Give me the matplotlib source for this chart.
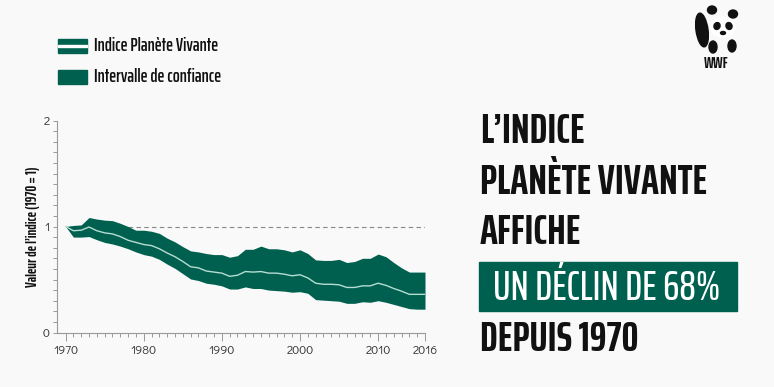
import matplotlib
matplotlib.use("Agg")
import matplotlib.pyplot as plt
from matplotlib.patches import Rectangle, Ellipse
import numpy as np

# ---- data ----
years = list(range(1970, 2017))
lpi = [1.0, 0.96, 0.965, 0.995, 0.96, 0.94, 0.93, 0.905, 0.87, 0.85,
       0.83, 0.82, 0.79, 0.75, 0.715, 0.67, 0.62, 0.61, 0.58, 0.57,
       0.56, 0.53, 0.54, 0.575, 0.57, 0.575, 0.56, 0.56, 0.55, 0.535,
       0.545, 0.515, 0.465, 0.455, 0.455, 0.45, 0.425, 0.425, 0.44, 0.44,
       0.465, 0.445, 0.415, 0.39, 0.36, 0.36, 0.36]
upper = [1.0, 1.01, 1.015, 1.085, 1.07, 1.06, 1.055, 1.03, 1.0, 0.965,
         0.965, 0.955, 0.935, 0.89, 0.855, 0.81, 0.77, 0.76, 0.745, 0.735,
         0.735, 0.71, 0.725, 0.785, 0.785, 0.815, 0.79, 0.79, 0.78, 0.76,
         0.78, 0.745, 0.685, 0.68, 0.68, 0.69, 0.66, 0.67, 0.70, 0.70,
         0.74, 0.715, 0.66, 0.61, 0.57, 0.57, 0.57]
lower = [1.0, 0.90, 0.90, 0.905, 0.875, 0.85, 0.835, 0.815, 0.79, 0.76,
         0.735, 0.72, 0.69, 0.645, 0.605, 0.555, 0.505, 0.49, 0.465, 0.455,
         0.44, 0.41, 0.41, 0.43, 0.415, 0.415, 0.40, 0.395, 0.39, 0.38,
         0.385, 0.37, 0.31, 0.305, 0.30, 0.295, 0.275, 0.275, 0.29, 0.285,
         0.30, 0.285, 0.265, 0.245, 0.225, 0.22, 0.22]
xticks = [1970, 1980, 1990, 2000, 2010, 2016]
yticks = [0, 1, 2]
legend_labels = ["Indice Planète Vivante", "Intervalle de confiance"]
headline = ["L\u2019INDICE", "PLANÈTE VIVANTE", "AFFICHE", "UN DÉCLIN DE 68%", "DEPUIS 1970"]

GREEN = "#00604f"
LINE = "#b5dcd2"
BG = "#f9f9f9"
COND = ["Saira ExtraCondensed", "Fira Sans Extra Condensed", "DejaVu Sans"]
TICKF = ["Didact Gothic", "DejaVu Sans"]

W, H = 774, 387
fig = plt.figure(figsize=(W / 100, H / 100), dpi=100, facecolor=BG)
renderer = fig.canvas.get_renderer()

def fx(px):
    return px / W

def fy(py):
    return 1 - py / H

def fit(t, target, vertical=False):
    # rescale a text so its width (or height) matches what the picture shows
    bb = t.get_window_extent(renderer)
    size = bb.height if vertical else bb.width
    t.set_fontsize(t.get_fontsize() * target / size)
    return t

# ---- main chart ----
ax = fig.add_axes([fx(57), fy(332.5), fx(425) - fx(57), fy(120.5) - fy(332.5)])
ax.set_facecolor(BG)
ax.fill_between(years, lower, upper, color=GREEN, lw=0)
ax.plot(years, lpi, color=LINE, lw=1.0)
ax.plot([1970, 2016], [1, 1], color="#888888", lw=0.8, ls=(0, (4, 3)), zorder=0)
ax.set_xlim(1968.9, 2016)
ax.set_ylim(0, 2)
for s in ["top", "right"]:
    ax.spines[s].set_visible(False)
for s in ["left", "bottom"]:
    ax.spines[s].set_color("#999999")
    ax.spines[s].set_linewidth(0.8)
ax.set_xticks(xticks)
ax.set_xticks(years, minor=True)
ax.set_yticks(yticks)
ax.set_yticks(np.arange(0, 2.01, 0.1), minor=True)
ax.tick_params(axis="both", which="both", color="#999999", width=0.7, labelsize=9,
               labelcolor="#333333")
ax.tick_params(axis="x", which="major", length=6, pad=3)
ax.tick_params(axis="x", which="minor", length=3)
ax.tick_params(axis="y", which="major", length=3, pad=2)
ax.tick_params(axis="y", which="minor", length=3)
for lab in ax.get_xticklabels() + ax.get_yticklabels():
    lab.set_family(TICKF)

yl = fig.text(fx(33), fy(227), "Valeur de l\u2019indice (1970 = 1)", family=COND,
              fontweight="bold", fontsize=9, color="#111111", rotation=90,
              va="center", ha="center")
fit(yl, 121, vertical=True)

# ---- legend ----
fig.patches.append(Rectangle((fx(58), fy(53)), fx(29), fy(39) - fy(53),
                             transform=fig.transFigure, color=GREEN))
fig.patches.append(Rectangle((fx(58), fy(46.8)), fx(29), fy(45.2) - fy(46.8),
                             transform=fig.transFigure, color="white"))
fig.patches.append(Rectangle((fx(58), fy(84)), fx(29), fy(70) - fy(84),
                             transform=fig.transFigure, color=GREEN))
l1 = fig.text(fx(94), fy(46), legend_labels[0], family=COND, fontsize=12,
              fontweight="semibold", color="#111111", va="center", ha="left")
fit(l1, 124)
l2 = fig.text(fx(94), fy(77), legend_labels[1], family=COND, fontweight="semibold",
              fontsize=l1.get_fontsize(), color="#111111", va="center", ha="left")

# ---- headline ----
line_y = [131, 182, 232, 288, 339]
ref = fig.text(0, 0, headline[1], family=COND, fontsize=30, fontweight="bold")
fit(ref, 227)
hsize = ref.get_fontsize()
ref.remove()
for i, (txt, yy) in enumerate(zip(headline, line_y)):
    if i == 3:
        fig.patches.append(Rectangle((fx(479), fy(311)), fx(258), fy(262) - fy(311),
                                     transform=fig.transFigure, color=GREEN))
        t = fig.text(fx(493), fy(yy), txt, family=COND, fontsize=hsize,
                     fontweight="medium", color="white", va="center", ha="left")
        fit(t, 228)
    else:
        fig.text(fx(480), fy(yy), txt, family=COND, fontsize=hsize, fontweight="bold",
                 color="#111111", va="center", ha="left")

# ---- WWF logo (rough) ----
lg = fig.add_axes([fx(692), fy(54), fx(52), fy(4) - fy(54)])
lg.set_xlim(0, 52)
lg.set_ylim(0, 50)
lg.axis("off")
blk = "#111111"
lg.add_patch(Ellipse((20, 44), 9, 8, color=blk))
lg.add_patch(Ellipse((41, 40), 9, 8, color=blk))
lg.add_patch(Ellipse((10, 24), 12, 34, angle=8, color=blk))
lg.add_patch(Ellipse((31, 27), 24, 20, color="white", zorder=2))
lg.add_patch(Ellipse((25, 28), 6, 7, angle=-20, color=blk, zorder=3))
lg.add_patch(Ellipse((37, 28), 6, 7, angle=20, color=blk, zorder=3))
lg.add_patch(Ellipse((31, 21), 5, 3, color=blk, zorder=3))
lg.add_patch(Ellipse((21, 7), 8, 12, color=blk))
lg.add_patch(Ellipse((40, 8), 8, 12, color=blk))
fig.text(fx(716), fy(64), "WWF", family=COND, fontsize=11, fontweight="bold",
         color=blk, ha="center", va="center")

fig.savefig("out.png", dpi=100, facecolor=BG)
